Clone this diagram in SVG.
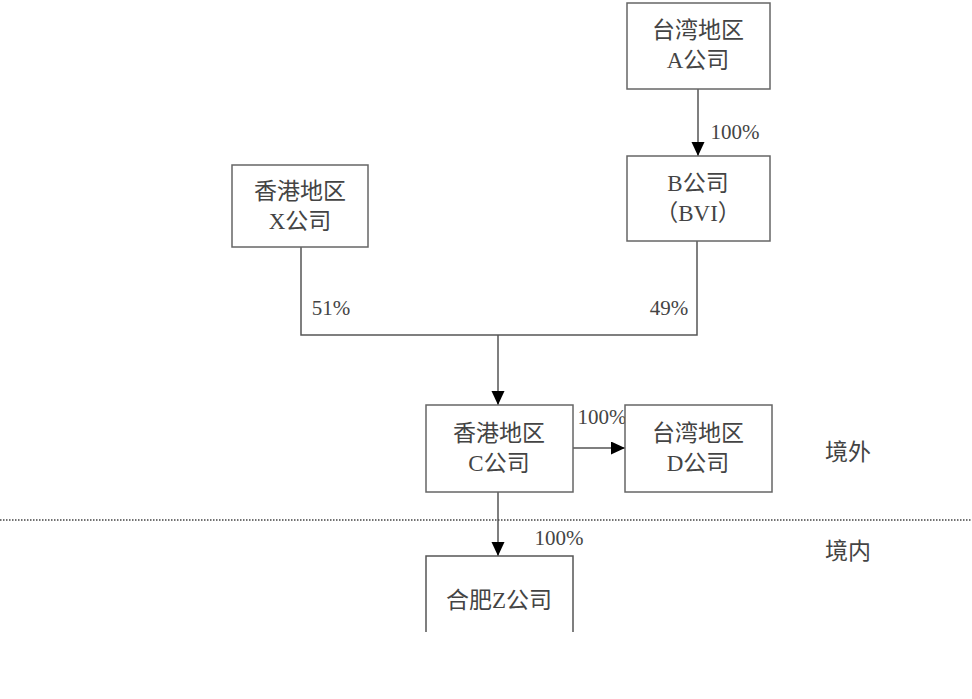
<svg xmlns="http://www.w3.org/2000/svg" width="972" height="699" viewBox="0 0 972 699">
<style>
.box{fill:#fff;stroke:#666;stroke-width:1.5}
.ln{fill:none;stroke:#555;stroke-width:1.5}
text{font-family:"Liberation Serif","Noto Sans CJK SC",serif;font-size:23px;fill:#444;text-anchor:middle}
.lbl{font-size:21px}
</style>
<defs>
<marker id="ah" markerWidth="14" markerHeight="14" refX="14" refY="6.5" orient="auto" markerUnits="userSpaceOnUse">
<path d="M0,0 L14,6.5 L0,13 Z" fill="#000"/>
</marker>
</defs>
<rect width="972" height="699" fill="#fff"/>
<g id="connectors">
<line class="ln" x1="698" y1="89" x2="698" y2="156" marker-end="url(#ah)"/>
<polyline class="ln" points="301,247 301,335 697,335 697,241"/>
<line class="ln" x1="498" y1="335" x2="498" y2="405" marker-end="url(#ah)" stroke="#000"/>
<line class="ln" x1="573" y1="448" x2="625" y2="448" marker-end="url(#ah)"/>
<line class="ln" x1="498" y1="492" x2="498" y2="556" marker-end="url(#ah)"/>
<line x1="0" y1="520" x2="972" y2="520" stroke="#444" stroke-width="1.5" stroke-dasharray="1.5,1.5"/>
<text class="lbl" x="735" y="139">100%</text>
<text class="lbl" x="331" y="315">51%</text>
<text class="lbl" x="669" y="315">49%</text>
<text class="lbl" x="602" y="424">100%</text>
<text class="lbl" x="559" y="545">100%</text>
</g>
<g id="nodeA"><rect class="box" x="627" y="3" width="143" height="86"/><text x="698" y="38">台湾地区</text><text x="698" y="68">A公司</text></g>
<g id="nodeB"><rect class="box" x="627" y="156" width="143" height="85"/><text x="698" y="191">B公司</text><text x="698" y="221">（BVI）</text></g>
<g id="nodeX"><rect class="box" x="232" y="165" width="136" height="82"/><text x="300" y="199">香港地区</text><text x="300" y="229">X公司</text></g>
<g id="nodeC"><rect class="box" x="426" y="405" width="147" height="87"/><text x="499" y="441">香港地区</text><text x="499" y="471">C公司</text></g>
<g id="nodeD"><rect class="box" x="625" y="405" width="147" height="87"/><text x="698" y="441">台湾地区</text><text x="698" y="471">D公司</text></g>
<g id="nodeZ"><polyline class="ln" points="426,632 426,556 573,556 573,632"/><text x="499" y="608">合肥Z公司</text></g>
<g id="regions"><text x="848" y="460">境外</text><text x="848" y="559">境内</text></g>
</svg>
